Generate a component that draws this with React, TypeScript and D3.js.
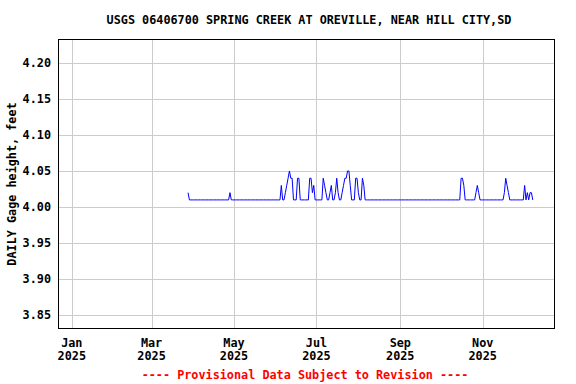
import React from 'react';
import * as d3 from 'd3';

// chart text
const title = 'USGS 06406700 SPRING CREEK AT OREVILLE, NEAR HILL CITY,SD';
const yLabel = 'DAILY Gage height, feet';
const footer = '---- Provisional Data Subject to Revision ----';

// tick labels
const yTicks = [3.85, 3.9, 3.95, 4.0, 4.05, 4.1, 4.15, 4.2];
const xTickMonths = ['Jan', 'Mar', 'May', 'Jul', 'Sep', 'Nov'];
const xTickDates = ['2025-01-01', '2025-03-01', '2025-05-01', '2025-07-01', '2025-09-01', '2025-11-01'];

// daily gage height, feet (first reading 2025-03-28)
const firstDay = '2025-03-28';
const marValues = [4.02, 4.01, 4.01, 4.01];
const aprValues = [
  4.01, 4.01, 4.01, 4.01, 4.01, 4.01, 4.01, 4.01, 4.01, 4.01,
  4.01, 4.01, 4.01, 4.01, 4.01, 4.01, 4.01, 4.01, 4.01, 4.01,
  4.01, 4.01, 4.01, 4.01, 4.01, 4.01, 4.01, 4.02, 4.01, 4.01,
];
const mayValues = [
  4.01, 4.01, 4.01, 4.01, 4.01, 4.01, 4.01, 4.01, 4.01, 4.01,
  4.01, 4.01, 4.01, 4.01, 4.01, 4.01, 4.01, 4.01, 4.01, 4.01,
  4.01, 4.01, 4.01, 4.01, 4.01, 4.01, 4.01, 4.01, 4.01, 4.01, 4.01,
];
const junValues = [
  4.01, 4.01, 4.01, 4.01, 4.03, 4.01, 4.01, 4.02, 4.03, 4.04,
  4.05, 4.04, 4.04, 4.01, 4.01, 4.01, 4.04, 4.04, 4.01, 4.01,
  4.01, 4.01, 4.01, 4.01, 4.01, 4.04, 4.04, 4.02, 4.03, 4.01,
];
const julValues = [
  4.01, 4.01, 4.01, 4.01, 4.01, 4.04, 4.03, 4.02, 4.01, 4.01,
  4.02, 4.03, 4.01, 4.01, 4.02, 4.04, 4.02, 4.01, 4.01, 4.02,
  4.03, 4.04, 4.04, 4.05, 4.05, 4.03, 4.01, 4.01, 4.01, 4.04, 4.04,
];
const augValues = [
  4.02, 4.01, 4.01, 4.04, 4.03, 4.01, 4.01, 4.01, 4.01, 4.01,
  4.01, 4.01, 4.01, 4.01, 4.01, 4.01, 4.01, 4.01, 4.01, 4.01,
  4.01, 4.01, 4.01, 4.01, 4.01, 4.01, 4.01, 4.01, 4.01, 4.01, 4.01,
];
const sepValues = [
  4.01, 4.01, 4.01, 4.01, 4.01, 4.01, 4.01, 4.01, 4.01, 4.01,
  4.01, 4.01, 4.01, 4.01, 4.01, 4.01, 4.01, 4.01, 4.01, 4.01,
  4.01, 4.01, 4.01, 4.01, 4.01, 4.01, 4.01, 4.01, 4.01, 4.01,
];
const octValues = [
  4.01, 4.01, 4.01, 4.01, 4.01, 4.01, 4.01, 4.01, 4.01, 4.01,
  4.01, 4.01, 4.01, 4.01, 4.01, 4.04, 4.04, 4.03, 4.01, 4.01,
  4.01, 4.01, 4.01, 4.01, 4.01, 4.01, 4.02, 4.03, 4.02, 4.01, 4.01,
];
const novValues = [
  4.01, 4.01, 4.01, 4.01, 4.01, 4.01, 4.01, 4.01, 4.01, 4.01,
  4.01, 4.01, 4.01, 4.01, 4.01, 4.01, 4.02, 4.04, 4.03, 4.02,
  4.01, 4.01, 4.01, 4.01, 4.01, 4.01, 4.01, 4.01, 4.01, 4.01,
];
const decValues = [4.01, 4.03, 4.01, 4.02, 4.01, 4.02, 4.02, 4.01];

const W = 576;
const H = 384;
const box = { left: 58.5, top: 39.5, right: 554.5, bottom: 328.5 };
const font = '"DejaVu Sans Mono", monospace';

export default function App() {
  const values = [
    ...marValues, ...aprValues, ...mayValues, ...junValues, ...julValues,
    ...augValues, ...sepValues, ...octValues, ...novValues, ...decValues,
  ];
  const start = new Date(firstDay + 'T00:00:00Z');
  const data = values.map((v, i) => ({ date: d3.utcDay.offset(start, i), v }));

  const x = d3
    .scaleUtc()
    .domain([new Date(Date.UTC(2024, 11, 22, 4)), new Date(Date.UTC(2025, 11, 24, 2))])
    .range([box.left, box.right]);
  const y = d3.scaleLinear().domain([3.832, 4.232]).range([box.bottom, box.top]);

  const line = d3
    .line<{ date: Date; v: number }>()
    .x((d) => x(d.date))
    .y((d) => y(d.v));

  const xTicks = xTickDates.map((s) => new Date(s + 'T00:00:00Z'));

  return (
    <div style={{ position: 'absolute', left: 0, top: 0 }}>
      <svg width={W} height={H} style={{ display: 'block', background: '#fff' }}>
        <text x={W / 2 + 21} y={24} textAnchor="middle" fontFamily={font} fontWeight="bold" fontSize={11.8}>
          {title}
        </text>
        {/* grid */}
        {yTicks.map((t) => (
          <line key={'gy' + t} x1={box.left} x2={box.right} y1={Math.round(y(t)) + 0.5} y2={Math.round(y(t)) + 0.5} stroke="#cccccc" />
        ))}
        {xTicks.map((t, i) => (
          <line key={'gx' + i} y1={box.top} y2={box.bottom} x1={Math.round(x(t)) + 0.5} x2={Math.round(x(t)) + 0.5} stroke="#cccccc" />
        ))}
        {/* series */}
        <path d={line(data) || ''} fill="none" stroke="#0000ff" strokeWidth={1} />
        <rect x={box.left} y={box.top} width={box.right - box.left} height={box.bottom - box.top} fill="none" stroke="#000" />
        {/* y tick labels */}
        {yTicks.map((t) => (
          <text key={'ly' + t} x={51} y={y(t) + 4} textAnchor="end" fontFamily={font} fontWeight="bold" fontSize={11.8}>
            {t.toFixed(2)}
          </text>
        ))}
        {/* x tick labels */}
        {xTicks.map((t, i) => (
          <g key={'lx' + i} fontFamily={font} fontWeight="bold" fontSize={11.8} textAnchor="middle">
            <text x={x(t)} y={347}>{xTickMonths[i]}</text>
            <text x={x(t)} y={360}>{t.getUTCFullYear()}</text>
          </g>
        ))}
        <text
          transform={`translate(16,${(box.top + box.bottom) / 2}) rotate(-90)`}
          textAnchor="middle"
          fontFamily={font}
          fontWeight="bold"
          fontSize={11.8}
        >
          {yLabel}
        </text>
        <text x={305} y={379} textAnchor="middle" fontFamily={font} fontWeight="bold" fontSize={11.8} fill="#ff0000">
          {footer}
        </text>
      </svg>
    </div>
  );
}
